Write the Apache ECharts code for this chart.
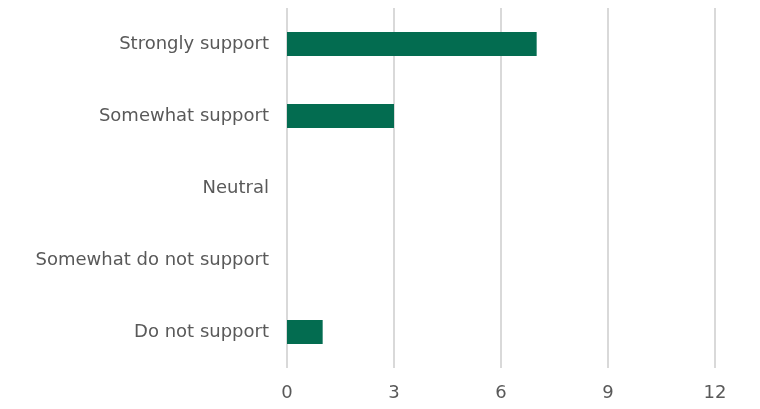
<!DOCTYPE html>
<html><head><meta charset="utf-8">
<script src="https://cdn.jsdelivr.net/npm/echarts@6/dist/echarts.min.js"></script>
<style>html,body{margin:0;padding:0;background:#fff}#c{width:760px;height:409px}</style>
</head><body><div id="c"></div>
<script>
const categories = ["Strongly support", "Somewhat support", "Neutral", "Somewhat do not support", "Do not support"];
const values = [7, 3, 0, 0, 1];
const xTicks = [0, 3, 6, 9, 12];

const chart = echarts.init(document.getElementById('c'), null, {renderer: 'canvas'});
chart.setOption({
  animation: false,
  grid: {left: 287, right: 45, top: 8, bottom: 41, containLabel: false},
  xAxis: {
    type: 'value', min: xTicks[0], max: xTicks[xTicks.length - 1], interval: 3,
    axisLine: {show: false}, axisTick: {show: false},
    splitLine: {lineStyle: {color: '#d9d9d9', width: 2}},
    axisLabel: {color: '#595959', fontFamily: 'DejaVu Sans', fontSize: 18, margin: 16}
  },
  yAxis: {
    type: 'category', data: categories, inverse: true,
    axisLine: {show: false}, axisTick: {show: false},
    axisLabel: {color: '#595959', fontFamily: 'DejaVu Sans', fontSize: 18, margin: 18}
  },
  series: [{
    type: 'bar', data: values, barWidth: 24,
    itemStyle: {color: '#036c50'}
  }]
});
</script></body></html>
